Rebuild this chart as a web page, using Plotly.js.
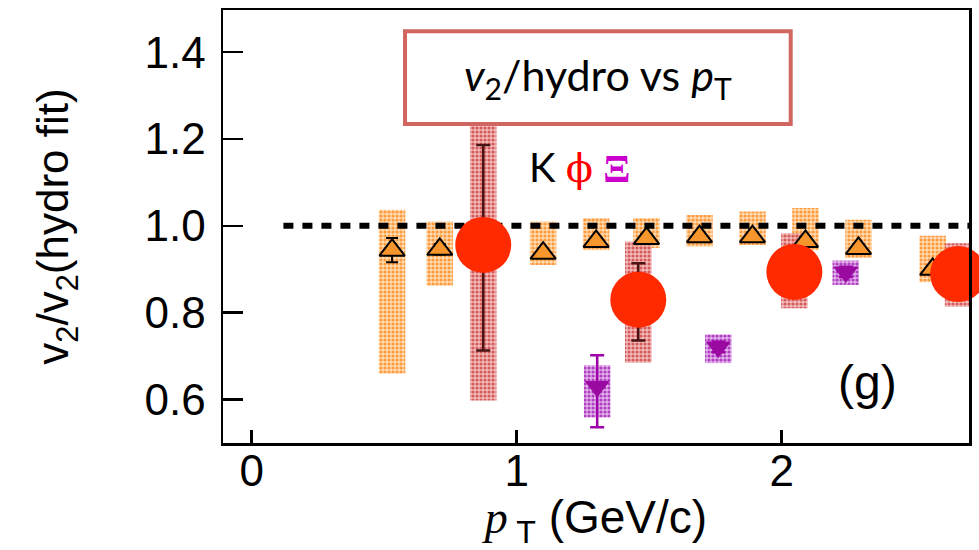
<!DOCTYPE html>
<html>
<head>
<meta charset="utf-8">
<script src="https://cdn.plot.ly/plotly-3.0.1.min.js"></script>
<style>html,body{margin:0;padding:0;background:#fff;}#chart{width:979px;height:550px;}</style>
</head>
<body>
<div id="chart"></div>
<script>
// ---- data ----
// Kaons
const kPt    = [0.53, 0.71, 1.10, 1.30, 1.49, 1.69, 1.89, 2.09, 2.29, 2.57];
const kV     = [0.944, 0.946, 0.937, 0.964, 0.971, 0.975, 0.975, 0.964, 0.948, 0.900];
const kErr   = [0.028, 0.012, 0.010, 0.010, 0.010, 0.010, 0.010, 0.010, 0.010, 0.010];
const kSysLo = [0.660, 0.862, 0.910, 0.944, 0.949, 0.952, 0.956, 0.944, 0.926, 0.870];
const kSysHi = [1.037, 1.010, 1.010, 1.018, 1.018, 1.025, 1.033, 1.041, 1.014, 0.977];
// phi mesons
const phiPt    = [0.874, 1.459, 2.048, 2.666];
const phiV     = [0.956, 0.830, 0.894, 0.889];
const phiErrUp = [0.230, 0.084, 0.040, 0.040];
const phiErrDn = [0.243, 0.094, 0.040, 0.040];
const phiSysLo = [0.598, 0.685, 0.810, 0.814];
const phiSysHi = [1.245, 0.964, 0.983, 0.960];
// Xi baryons
const xiPt    = [1.304, 1.761, 2.242];
const xiV     = [0.630, 0.721, 0.894];
const xiErrUp = [0.072, 0.012, 0.012];
const xiErrDn = [0.094, 0.012, 0.012];
const xiSysLo = [0.559, 0.684, 0.864];
const xiSysHi = [0.679, 0.750, 0.920];
// reference line v2/hydro = 1
const refX = [0.12, 2.71];
const refY = [1.0, 1.0];
// axis ticks
const xTicks = [0, 1, 2];
const yTicks = [0.6, 0.8, 1.0, 1.2, 1.4];

const span = (lo, hi) => hi.map((h, i) => h - lo[i]);

function sysBars(x, lo, hi, fg, bg) {
  return {
    type: 'bar', x: x, base: lo, y: span(lo, hi), width: 0.1,
    marker: {color: fg, line: {width: 0},
             pattern: {shape: '.', fgcolor: fg, bgcolor: bg, size: 4, solidity: 0.5}},
    hoverinfo: 'skip', showlegend: false
  };
}

const data = [
  sysBars(kPt, kSysLo, kSysHi, '#ff9a3c', 'rgba(255,210,160,0.8)'),
  sysBars(phiPt, phiSysLo, phiSysHi, '#d65a5a', 'rgba(238,165,165,0.75)'),
  sysBars(xiPt, xiSysLo, xiSysHi, '#b23cc2', 'rgba(215,155,228,0.75)'),
  {type: 'scatter', mode: 'lines', x: refX, y: refY,
   line: {color: '#000', width: 6, dash: '10px,9px'}, showlegend: false, hoverinfo: 'skip'},
  {type: 'scatter', mode: 'markers', x: kPt, y: kV, name: 'K',
   error_y: {type: 'data', array: kErr, color: '#000', thickness: 2, width: 6},
   marker: {symbol: 'triangle-up', size: 22, color: '#f7962d', line: {color: '#000', width: 2}}},
  {type: 'scatter', mode: 'markers', x: xiPt, y: xiV, name: 'Ξ',
   error_y: {type: 'data', symmetric: false, array: xiErrUp, arrayminus: xiErrDn,
             color: '#a000a8', thickness: 2.5, width: 7},
   marker: {symbol: 'triangle-down', size: 22, color: '#9a0aa0', line: {width: 0}}},
  {type: 'scatter', mode: 'markers', x: phiPt, y: phiV, name: 'φ', cliponaxis: false,
   error_y: {type: 'data', symmetric: false, array: phiErrUp, arrayminus: phiErrDn,
             color: '#4a1414', thickness: 2.5, width: 7},
   marker: {symbol: 'circle', size: 56, color: '#ff2a00', line: {width: 0}}}
];

const layout = {
  width: 979, height: 550,
  margin: {l: 223, r: 10, t: 10, b: 107},
  paper_bgcolor: '#fff', plot_bgcolor: '#fff',
  showlegend: false, barmode: 'overlay',
  font: {family: 'Liberation Sans, Arial, sans-serif', color: '#000'},
  xaxis: {
    range: [-0.108, 2.707], tickvals: xTicks, ticktext: xTicks.map(String),
    showgrid: false, zeroline: false, showline: true, linecolor: '#000', linewidth: 2.5,
    mirror: true, ticks: 'inside', ticklen: 13, tickwidth: 2.5, tickcolor: '#000',
    tickfont: {size: 44}, ticklabelstandoff: -12,
    title: {text: "<span style='font-family:Liberation Serif'><i>p</i></span><sub> T</sub> (GeV/c)",
            font: {size: 46}, standoff: 10}
  },
  yaxis: {
    range: [0.5, 1.497], tickvals: yTicks, ticktext: yTicks.map(v => v.toFixed(1)),
    showgrid: false, zeroline: false, showline: true, linecolor: '#000', linewidth: 2.5,
    mirror: true, ticks: 'inside', ticklen: 20, tickwidth: 2.5, tickcolor: '#000',
    tickfont: {size: 44}, ticklabelstandoff: 6,
    title: {text: 'v<sub>2</sub>/v<sub>2</sub>(hydro fit)', font: {size: 44}, standoff: 62}
  },
  yaxis2: {
    range: [0.5, 1.497], overlaying: 'y', side: 'right', tickvals: yTicks,
    showticklabels: false, showgrid: false, zeroline: false, showline: false,
    ticks: 'inside', ticklen: 6, tickwidth: 2.5, tickcolor: '#000'
  },
  shapes: [
    {type: 'rect', xref: 'paper', yref: 'paper', x0: 0.244, x1: 0.761, y0: 0.737, y1: 0.951,
     line: {color: '#d0665f', width: 4}, fillcolor: '#fff', layer: 'above'}
  ],
  annotations: [
    {xref: 'paper', yref: 'paper', x: 0.503, y: 0.844, xanchor: 'center', yanchor: 'middle',
     showarrow: false, text: '<i>v</i><sub>2</sub>/hydro vs <i>p</i><sub>T</sub>',
     font: {family: 'Lato, Open Sans, sans-serif', size: 43, color: '#000'}},
    {xref: 'paper', yref: 'paper', x: 0.408, y: 0.637, xanchor: 'left', yanchor: 'middle',
     showarrow: false,
     text: "K <span style='color:#ff0000;font-family:DejaVu Serif'>ϕ</span> <span style='color:#cc00cc;font-family:Liberation Serif'><b>Ξ</b></span>",
     font: {family: 'Lato, Open Sans, sans-serif', size: 40, color: '#000'}},
    {xref: 'paper', yref: 'paper', x: 0.864, y: 0.139, xanchor: 'center', yanchor: 'middle',
     showarrow: false, text: '(g)', font: {family: 'Liberation Sans, Arial, sans-serif', size: 48, color: '#000'}}
  ]
};

Plotly.newPlot('chart', data, layout, {staticPlot: true, displayModeBar: false});
</script>
</body>
</html>
